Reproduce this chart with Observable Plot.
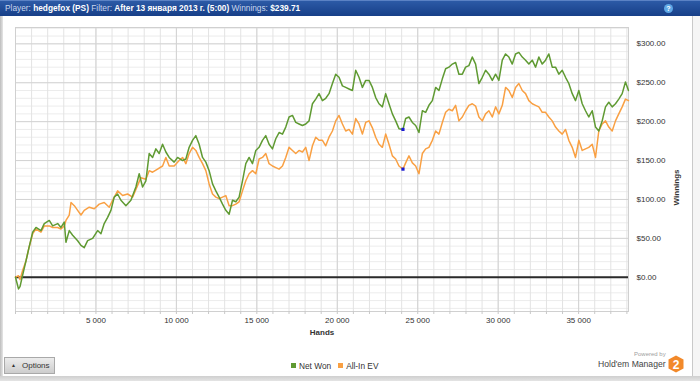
<!DOCTYPE html>
<html>
<head>
<meta charset="utf-8">
<script src="https://cdn.jsdelivr.net/npm/d3@7"></script>
<script src="https://cdn.jsdelivr.net/npm/@observablehq/plot@0.6"></script>
<style>
  html, body { margin: 0; padding: 0; width: 700px; height: 381px; overflow: hidden; background: #fff; font-family: "Liberation Sans", Arial, sans-serif; }
  #page { position: relative; width: 700px; height: 381px; background: #fff; }
  #leftstrip { position: absolute; left: 0; top: 16px; width: 3px; height: 365px; background: linear-gradient(90deg, #bdbdbd, #e6e6e6); }
  #rightstrip { position: absolute; left: 692px; top: 16px; width: 8px; height: 365px; background: #f5f5f5; border-left: 1px solid #c9c9c9; box-sizing: border-box; }
  #bottomstrip { position: absolute; left: 0; top: 376px; width: 700px; height: 5px; background: linear-gradient(#cfcfcf, #e4e4e4); }
  #header { position: absolute; left: 0; top: 0; width: 700px; height: 16px; background: linear-gradient(#2c5aa6, #173f88); border-top: 1px solid #5b82c4; box-sizing: border-box; color: #c9d7ee; font-size: 8.3px; line-height: 15px; white-space: nowrap; }
  #header .t { position: absolute; left: 5px; top: 0; }
  #header b { color: #fff; }
  #help { position: absolute; left: 664px; top: 3px; width: 9px; height: 9px; border-radius: 50%; background: #5ea7e6; color: #fff; font-size: 7px; font-weight: bold; line-height: 9px; text-align: center; }
  #chart { position: absolute; left: 0; top: 16px; }
  #options { position: absolute; left: 4px; top: 357px; width: 51px; height: 17px; box-sizing: border-box; border: 1px solid #a9a9a9; background: linear-gradient(#ececec, #cdcdcd); font-size: 8px; color: #333; line-height: 15px; }
  #options .tri { position: absolute; left: 6px; top: 0; font-size: 5px; }
  #options .lbl { position: absolute; left: 17px; top: 0; }
  #legend { position: absolute; left: 291px; top: 360px; font-size: 8.3px; color: #333; line-height: 12px; white-space: nowrap; }
  #legend .sw { display: inline-block; width: 5px; height: 5px; margin-right: 3px; vertical-align: 1px; }
  #legend .item { margin-right: 7px; }
  #powered { position: absolute; left: 634px; top: 351px; font-size: 6px; color: #a0a0a0; }
  #hem { position: absolute; left: 598px; top: 359px; font-size: 8.6px; color: #444; white-space: nowrap; }
  #logo { position: absolute; left: 668px; top: 355px; }
</style>
</head>
<body>
<div id="page">
  <div id="leftstrip"></div>
  <div id="rightstrip"></div>
  <div id="bottomstrip"></div>
  <div id="header"><span class="t">Player: <b>hedgefox (PS)</b> Filter: <b>After 13 января 2013 г. (5:00)</b> Winnings: <b>$239.71</b></span><div id="help">?</div></div>
  <div id="chart"></div>
  <div id="options"><span class="tri">▲</span><span class="lbl">Options</span></div>
  <div id="legend"><span class="item"><span class="sw" style="background:#5f9a32"></span>Net Won</span><span class="item"><span class="sw" style="background:#f9a043"></span>All-In EV</span></div>
  <div id="powered">Powered by</div>
  <div id="hem">Hold'em Manager</div>
  <svg id="logo" width="16" height="18" viewBox="0 0 16 18"><polygon points="8,0.5 15.5,4.5 15.5,13.5 8,17.5 0.5,13.5 0.5,4.5" fill="#f2892a"/><text x="8" y="13.5" text-anchor="middle" font-size="12" font-weight="bold" fill="#fff" font-family="Liberation Sans, Arial">2</text></svg>
</div>
<script>
// Net Won (green)
const netWonHands = [
  0,186,280,447,652,838,1068,1273,1584,1788,
  2099,2310,2621,2826,3030,3136,3341,3552,3863,4068,
  4272,4484,4794,5105,5310,5514,5726,5931,6135,6347,
  6552,6862,7173,7483,7688,7899,8104,8309,8520,8725,
  8930,9141,9346,9551,9861,10073,10383,10588,10793,11004,
  11209,11414,11625,11830,12035,12246,12451,12656,12867,13072,
  13277,13488,13693,13898,14109,14314,14519,14730,14935,15140,
  15351,15556,15761,15972,16177,16382,16593,16798,17003,17214,
  17419,17624,17835,18040,18245,18456,18661,18866,19077,19282,
  19487,19698,19903,20108,20319,20524,20729,20940,21145,21350,
  21561,21766,21971,22182,22387,22592,22803,23008,23213,23424,
  23629,23834,24082,24250,24455,24666,24871,25076,25287,25492,
  25697,25908,26113,26318,26529,26734,26939,27150,27355,27560,
  27771,27976,28181,28392,28597,28802,29013,29218,29423,29634,
  29839,30044,30255,30460,30665,30876,31081,31286,31497,31702,
  31907,32118,32323,32528,32739,32944,33149,33360,33565,33770,
  33981,34186,34391,34602,34807,35012,35223,35428,35633,35844,
  36049,36254,36465,36670,36875,37086,37291,37496,37707,37912,
  38098
];
const netWonValues = [
  0,-15,-12,3,21,38,58,64,60,69,
  73,66,69,64,71,45,60,54,47,41,
  38,47,50,60,56,69,77,86,103,107,
  99,92,99,116,133,116,124,159,154,165,
  159,171,161,154,148,154,150,152,167,176,
  182,171,154,148,137,120,111,103,94,86,
  81,99,97,103,124,146,154,146,163,167,
  176,182,171,165,178,186,184,193,206,208,
  199,197,195,197,201,223,229,236,227,230,
  236,249,261,257,246,244,242,240,266,257,
  244,253,253,244,231,223,219,236,223,210,
  201,191,190,204,206,199,195,186,214,212,
  221,227,244,240,255,268,270,274,276,261,
  261,270,272,283,274,249,257,266,261,253,
  261,253,279,287,283,274,287,289,283,279,
  274,279,270,283,274,279,287,270,270,261,
  266,257,249,236,227,240,223,214,206,214,
  193,188,201,219,225,219,223,229,236,251,
  240
];
// All-In EV (orange)
const allInEvHands = [
  0,186,280,447,652,838,1068,1273,1584,1788,
  2099,2310,2621,2826,3030,3136,3341,3450,3655,3863,
  4068,4272,4584,4894,5205,5514,5826,6035,6347,6657,
  6968,7278,7483,7794,8104,8309,8520,8830,9141,9346,
  9551,9861,10173,10383,10588,10793,11004,11209,11414,11625,
  11830,12035,12246,12451,12656,12867,13072,13277,13488,13693,
  13898,14109,14314,14519,14730,14935,15140,15351,15556,15761,
  15972,16177,16382,16593,16798,17003,17214,17419,17624,17835,
  18040,18245,18456,18661,18866,19077,19282,19487,19698,19903,
  20108,20319,20524,20729,20940,21145,21350,21561,21766,21971,
  22182,22387,22592,22803,23008,23213,23424,23629,23834,24082,
  24250,24455,24666,24871,25076,25287,25492,25697,25908,26113,
  26318,26529,26734,26939,27150,27355,27560,27771,27976,28181,
  28392,28597,28802,29013,29218,29423,29634,29839,30044,30255,
  30460,30665,30876,31081,31286,31497,31702,31907,32118,32323,
  32528,32739,32944,33149,33360,33565,33770,33981,34186,34391,
  34602,34807,35012,35223,35428,35633,35844,36049,36254,36465,
  36670,36875,37086,37291,37496,37707,37912,38098
];
const allInEvValues = [
  0,2,-3,9,21,38,56,62,58,66,
  66,64,64,62,66,73,80,96,92,86,
  80,86,90,88,94,96,90,99,111,105,
  107,103,113,128,126,137,135,139,143,154,
  143,143,150,154,146,159,167,163,154,146,
  137,120,107,103,101,103,105,92,92,94,
  97,111,124,133,137,133,152,154,159,146,
  143,141,139,143,154,167,163,159,163,161,
  167,150,169,180,176,176,169,180,188,201,
  208,197,188,190,184,204,197,184,199,201,
  192,180,171,167,184,171,156,152,143,139,
  147,156,147,143,133,159,165,167,176,188,
  184,199,212,216,214,221,201,206,214,221,
  223,220,206,201,210,214,206,219,210,221,
  244,240,231,244,249,240,236,227,223,221,
  219,212,212,206,201,193,188,184,190,176,
  167,154,176,163,165,167,171,154,188,197,
  201,193,188,201,210,219,229,227
];
// highlighted points (blue markers)
const markerHands = [24082, 24082];
const markerValues = [190, 139];

const xTickValues = [5000, 10000, 15000, 20000, 25000, 30000, 35000];
const yTickValues = [0, 50, 100, 150, 200, 250, 300];

const netWon = netWonHands.map((h, i) => ({hands: h, value: netWonValues[i]}));
const allInEv = allInEvHands.map((h, i) => ({hands: h, value: allInEvValues[i]}));
const markers = markerHands.map((h, i) => ({hands: h, value: markerValues[i]}));

const xMinor = d3.range(0, 38001, 1000);
const yMinor = d3.range(-40, 321, 10);

const chart = Plot.plot({
  width: 692,
  height: 332,
  marginLeft: 15,
  marginRight: 64,
  marginTop: 11,
  marginBottom: 37,
  x: {domain: [0, 38100]},
  y: {domain: [-44, 321]},
  style: {fontFamily: "Liberation Sans, Arial, sans-serif", fontSize: "8px", color: "#333", background: "transparent", overflow: "visible"},
  marks: [
    Plot.gridY(yMinor, {stroke: "#ececec", strokeOpacity: 1}),
    Plot.gridX(xMinor, {stroke: "#e3e3e3", strokeOpacity: 1}),
    Plot.gridY(yTickValues, {stroke: "#d3d3d3", strokeOpacity: 1}),
    Plot.gridX(xTickValues, {stroke: "#d3d3d3", strokeOpacity: 1}),
    Plot.frame({stroke: "#d0d0d0"}),
    Plot.axisX(xMinor, {tickSize: 3, tickFormat: () => "", stroke: "#c8c8c8", label: null}),
    Plot.axisX(xTickValues, {tickSize: 0, tickPadding: 6, tickFormat: d => d3.format(",")(d).replace(/,/g, " "), label: null}),
    Plot.axisY(yTickValues, {anchor: "right", tickSize: 0, tickPadding: 8, tickFormat: d => "$" + d.toFixed(2), label: null}),
    Plot.ruleY([0], {stroke: "#2b2b2b", strokeWidth: 2}),
    Plot.line(allInEv, {x: "hands", y: "value", stroke: "#f9a043", strokeWidth: 1.5}),
    Plot.line(netWon, {x: "hands", y: "value", stroke: "#5f9a32", strokeWidth: 1.5}),
    Plot.dot(markers, {x: "hands", y: "value", symbol: "square", r: 1.8, fill: "#1a1ad0", stroke: "none"}),
    Plot.text(["Hands"], {frameAnchor: "bottom", dy: 23, fontWeight: "bold", fill: "#333"}),
    Plot.text(["Winnings"], {frameAnchor: "right", dx: 48, rotate: -90, fontWeight: "bold", fill: "#333"})
  ]
});
document.getElementById("chart").appendChild(chart);
</script>
</body>
</html>
